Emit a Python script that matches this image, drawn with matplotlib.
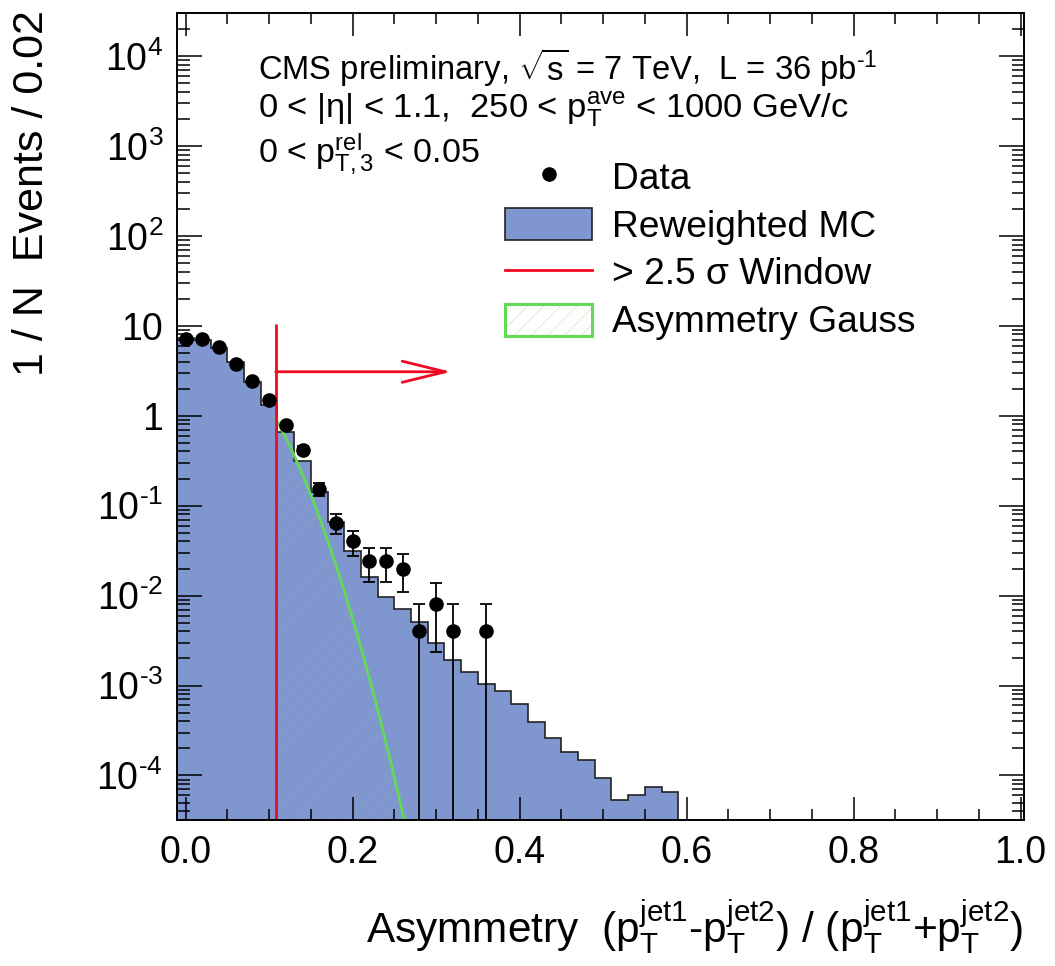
import numpy as np
import matplotlib.pyplot as plt
from matplotlib.lines import Line2D
from matplotlib.patches import Patch
from matplotlib.legend_handler import HandlerTuple
from matplotlib.ticker import MultipleLocator, FixedLocator, FuncFormatter, FormatStrFormatter, NullFormatter

plt.rcParams['font.family'] = ['Liberation Sans', 'DejaVu Sans']
plt.rcParams['mathtext.fontset'] = 'custom'
plt.rcParams['mathtext.rm'] = 'Liberation Sans'
plt.rcParams['mathtext.it'] = 'Liberation Sans'
plt.rcParams['mathtext.sf'] = 'Liberation Sans'
plt.rcParams['hatch.linewidth'] = 0.6

# reweighted MC, bins of 0.02 centred on 0.00 ... 0.58
mc_centers = [0.00, 0.02, 0.04, 0.06, 0.08, 0.10, 0.12, 0.14, 0.16, 0.18,
              0.20, 0.22, 0.24, 0.26, 0.28, 0.30, 0.32, 0.34, 0.36, 0.38,
              0.40, 0.42, 0.44, 0.46, 0.48, 0.50, 0.52, 0.54, 0.56, 0.58]
mc_values = [7.4, 7.0, 5.7, 4.0, 2.4, 1.33, 0.66, 0.31, 0.142, 0.065,
             0.031, 0.0161, 0.0096, 0.0071, 0.0051, 0.0030, 0.00193, 0.00141, 0.00104, 0.00086,
             0.00062, 0.00039, 0.00026, 0.000183, 0.000149, 0.0000934, 0.0000532, 0.000060, 0.0000742, 0.0000659]

# data points (empty bins left out)
data_x = [0.00, 0.02, 0.04, 0.06, 0.08, 0.10, 0.12, 0.14, 0.16, 0.18,
          0.20, 0.22, 0.24, 0.26, 0.28, 0.30, 0.32, 0.36]
data_y = [7.2, 7.2, 5.8, 3.75, 2.43, 1.49, 0.78, 0.416, 0.152, 0.064,
          0.040, 0.024, 0.024, 0.020, 0.004, 0.008, 0.004, 0.004]
event_weight = 0.004   # 1/N per event per bin

bin_width = 0.02
window_x = 0.108       # > 2.5 sigma cut
window_top = 10.5
arrow_y = 3.08
arrow_end = 0.318
gauss_amp = 7.65
gauss_sigma = 0.0526

ymin, ymax = 3.2e-5, 3e4
decades = np.arange(-4, 5)

blue = '#7f97ce'
red = '#ee0a22'
green = '#62d957'

fig = plt.figure(figsize=(10.55, 9.66), dpi=100)
ax = fig.add_axes([177 / 1055, 1 - 820 / 966, 847 / 1055, 807 / 966])
ax.set_yscale('log')

edges = np.append(np.array(mc_centers) - bin_width / 2, mc_centers[-1] + bin_width / 2)
ax.stairs(mc_values, edges, baseline=ymin * 1e-3, fill=True, color=blue, lw=0)
ax.stairs(mc_values, edges, baseline=ymin * 1e-3, color='#222222', lw=1.2)

# gaussian core and its tail beyond the window
gx = np.linspace(window_x, 0.3, 300)
gy = gauss_amp * np.exp(-gx ** 2 / (2 * gauss_sigma ** 2))
ax.fill_between(gx, ymin * 1e-3, gy, facecolor='none', edgecolor='#8e9cc6', hatch='//', lw=0)
ax.plot(gx, gy, color=green, lw=2)

ax.vlines(window_x, ymin * 1e-3, window_top, color=red, lw=2)
ax.annotate('', xy=(arrow_end, arrow_y), xytext=(window_x, arrow_y),
            arrowprops=dict(arrowstyle='->,head_length=1.55,head_width=0.38', color=red, lw=2,
                            shrinkA=0, shrinkB=0, mutation_scale=20))

data_y = np.array(data_y)
err = np.sqrt(data_y / event_weight) * event_weight
err_lo = np.minimum(err, data_y * (1 - 1e-9))
ax.errorbar(data_x, data_y, yerr=[err_lo, err], fmt='o', color='black', ms=9.5,
            elinewidth=1.3, capsize=4, capthick=1.3, zorder=5)

ax.set_xlim(-0.0103, 1.004)
ax.set_ylim(ymin, ymax)

ax.xaxis.set_major_locator(MultipleLocator(0.2))
ax.xaxis.set_minor_locator(MultipleLocator(0.05))
ax.xaxis.set_major_formatter(FormatStrFormatter('%.1f'))
minor_y = [m * 10.0 ** k for k in range(-5, 5) for m in range(2, 10)]
minor_y = [v for v in minor_y if ymin <= v <= ymax]
ax.yaxis.set_major_locator(FixedLocator(10.0 ** decades))
ax.yaxis.set_minor_locator(FixedLocator(minor_y))
ax.yaxis.set_minor_formatter(NullFormatter())


def ylabel_fmt(v, pos):
    k = int(round(np.log10(v)))
    if k == 0:
        return '1'
    if k == 1:
        return '10'
    return r'10$^{\text{%d}}$' % k


ax.yaxis.set_major_formatter(FuncFormatter(ylabel_fmt))
ax.tick_params(which='both', direction='in', top=True, right=True, width=1.1, labelsize=27)
ax.tick_params(axis='x', which='major', length=16.5, pad=11)
ax.tick_params(axis='x', which='minor', length=8)
ax.tick_params(axis='y', which='major', length=18, pad=10)
ax.tick_params(axis='y', which='minor', length=9)
for s in ax.spines.values():
    s.set_linewidth(1.4)

fig.text(32 / 1055, 1 - 10 / 966, '1 / N  Events / 0.02', rotation=90, ha='center', va='top', fontsize=31)
fig.text(1023 / 1055, 1 - 943 / 966,
         r'Asymmetry  ($\mathrm{p}_{\mathrm{T}}^{\mathrm{jet1}}$-$\mathrm{p}_{\mathrm{T}}^{\mathrm{jet2}}$)'
         r' / ($\mathrm{p}_{\mathrm{T}}^{\mathrm{jet1}}$+$\mathrm{p}_{\mathrm{T}}^{\mathrm{jet2}}$)',
         ha='right', va='baseline', fontsize=30.5)

ax.text(0.0956, 0.917, r'CMS preliminary, $\sqrt{\mathrm{s}}$ = 7 TeV,  L = 36 pb$^{\text{-1}}$',
        transform=ax.transAxes, fontsize=23.6, va='baseline')
ax.text(0.0956, 0.871, r'0 < |η| < 1.1,  250 < $\mathrm{p}_{\mathrm{T}}^{\mathrm{ave}}$ < 1000 GeV/c',
        transform=ax.transAxes, fontsize=24.8, va='baseline')
ax.text(0.0956, 0.814, r'0 < $\mathrm{p}_{\mathrm{T,3}}^{\mathrm{rel}}$ < 0.05',
        transform=ax.transAxes, fontsize=24.5, va='baseline')

h_data = Line2D([], [], marker='o', ls='none', color='black', ms=9.5)
h_mc = Patch(facecolor=blue, edgecolor='#222222', lw=1.2)
h_win = Line2D([], [], color=red, lw=2)
h_gauss = (Patch(facecolor='white', edgecolor='#cdeec8', hatch='//', lw=0),
           Patch(facecolor='none', edgecolor=green, lw=2.2))
ax.legend([h_data, h_mc, h_win, h_gauss],
          ['Data', 'Reweighted MC', '> 2.5 σ Window', 'Asymmetry Gauss'],
          handler_map={tuple: HandlerTuple(ndivide=1, pad=0)},
          loc='upper left', bbox_to_anchor=((505 - 177) / 847, (820 - 160) / 807),
          frameon=False, fontsize=26.7, borderpad=0, borderaxespad=0,
          handlelength=2.35, handleheight=0.95, handletextpad=0.54, labelspacing=0.3)

fig.savefig('out.png', dpi=100)
